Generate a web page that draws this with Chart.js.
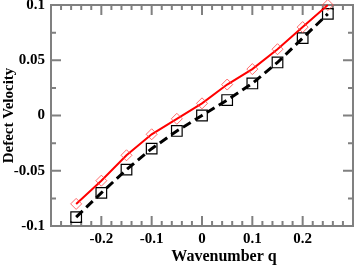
<!DOCTYPE html>
<html>
<head>
<meta charset="utf-8">
<script src="https://cdn.jsdelivr.net/npm/chart.js@4.4.1/dist/chart.umd.min.js"></script>
<style>
  html, body { margin: 0; padding: 0; background: #fff; }
  #wrap { width: 354px; height: 266px; }
</style>
</head>
<body>
<div id="wrap"><canvas id="c"></canvas></div>
<script>
// wavenumber values shared by both series
const wavenumbers = [-0.25, -0.2, -0.15, -0.1, -0.05, 0, 0.05, 0.1, 0.15, 0.2, 0.25];
const velocityRed = [-0.080, -0.059, -0.036, -0.017, -0.003, 0.011, 0.028, 0.042, 0.060, 0.080, 0.100];
const velocityBlack = [-0.092, -0.070, -0.049, -0.030, -0.014, 0.000, 0.014, 0.029, 0.048, 0.070, 0.092];

const xTicks = [-0.2, -0.1, 0, 0.1, 0.2];
const xTickLabels = ["-0.2", "-0.1", "0", "0.1", "0.2"];
const yTicks = [-0.1, -0.05, 0, 0.05, 0.1];
const yTickLabels = ["-0.1", "-0.05", "0", "0.05", "0.1"];
const xTitle = "Wavenumber q";
const yTitle = "Defect Velocity";

const FRAME = "#808080";
const serif = "'Liberation Serif', 'DejaVu Serif', serif";

function pairs(xs, ys) {
    return xs.map((x, i) => ({ x: x, y: ys[i] }));
}

// frame plus inward ticks, like the old xmgrace look
const framePlugin = {
    id: "frame",
    beforeDatasetsDraw(chart) {
        let ctx = chart.ctx;
        let a = chart.chartArea;
        let xs = chart.scales.x, ys = chart.scales.y;
        ctx.save();
        ctx.strokeStyle = FRAME;
        ctx.lineWidth = 2;
        ctx.strokeRect(a.left, a.top, a.right - a.left, a.bottom - a.top);

        // x ticks, minor every 0.02
        for (let i = -15; i <= 15; i++) {
            let px = xs.getPixelForValue(i * 0.02);
            let len = (i % 5 == 0) ? 10 : 5;
            ctx.beginPath();
            ctx.moveTo(px, a.bottom); ctx.lineTo(px, a.bottom - len);
            ctx.moveTo(px, a.top); ctx.lineTo(px, a.top + len);
            ctx.stroke();
        }
        // y ticks, minor every 0.025
        for (let i = -4; i <= 4; i++) {
            let py = ys.getPixelForValue(i * 0.025);
            let len = (i % 2 == 0) ? 10 : 5;
            ctx.beginPath();
            ctx.moveTo(a.left, py); ctx.lineTo(a.left + len, py);
            ctx.moveTo(a.right, py); ctx.lineTo(a.right - len, py);
            ctx.stroke();
        }

        // x title sits a bit right of centre in the original
        ctx.fillStyle = "#000";
        ctx.font = "bold 16px " + serif;
        ctx.textAlign = "center";
        ctx.textBaseline = "alphabetic";
        ctx.fillText(xTitle, (a.left + a.right) / 2 + 22, 261);
        ctx.restore();
    }
};

new Chart(document.getElementById("c").getContext("2d"), {
    type: "line",
    data: {
        datasets: [{
            label: "red",
            data: pairs(wavenumbers, velocityRed),
            borderColor: "#ff0000",
            borderWidth: 2,
            pointStyle: "rectRot",
            pointRadius: 5.5,
            pointBorderWidth: 1,
            pointBorderColor: "rgba(255, 70, 70, 0.8)",
            pointBackgroundColor: "rgba(0,0,0,0)",
            tension: 0,
            clip: false
        }, {
            label: "black",
            data: pairs(wavenumbers, velocityBlack),
            borderColor: "#000000",
            borderWidth: 3,
            borderDash: [9, 5],
            pointStyle: "rect",
            pointRadius: 7.5,
            pointBorderWidth: 1.2,
            pointBorderColor: "#000000",
            pointBackgroundColor: "rgba(0,0,0,0)",
            tension: 0,
            clip: false
        }]
    },
    options: {
        responsive: true,
        maintainAspectRatio: false,
        animation: false,
        layout: { autoPadding: false, padding: { top: 5, right: 1, left: 0, bottom: 0 } },
        plugins: {
            legend: { display: false },
            tooltip: { enabled: false }
        },
        scales: {
            x: {
                type: "linear",
                min: -0.3,
                max: 0.3,
                afterFit(scale) {
                    scale.height = 40;
                    scale.paddingLeft = 0;
                    scale.paddingRight = 0;
                },
                afterBuildTicks(scale) { scale.ticks = xTicks.map(v => ({ value: v })); },
                grid: { display: false, drawTicks: false },
                border: { display: false },
                ticks: {
                    padding: 4,
                    color: "#000",
                    maxRotation: 0,
                    font: { family: serif, size: 15, weight: "bold" },
                    callback: (v) => xTickLabels[xTicks.indexOf(v)]
                },
                title: { display: false }
            },
            y: {
                type: "linear",
                min: -0.1,
                max: 0.1,
                afterFit(scale) {
                    scale.width = 51;
                    scale.paddingTop = 0;
                    scale.paddingBottom = 0;
                },
                afterBuildTicks(scale) { scale.ticks = yTicks.map(v => ({ value: v })); },
                grid: { display: false, drawTicks: false },
                border: { display: false },
                ticks: {
                    padding: 6,
                    color: "#000",
                    font: { family: serif, size: 15, weight: "bold" },
                    callback: (v) => yTickLabels[yTicks.indexOf(v)]
                },
                title: {
                    display: true,
                    text: yTitle,
                    color: "#000",
                    padding: { top: 0, bottom: 0 },
                    font: { family: serif, size: 15, weight: "bold" }
                }
            }
        }
    },
    plugins: [framePlugin]
});
</script>
</body>
</html>
